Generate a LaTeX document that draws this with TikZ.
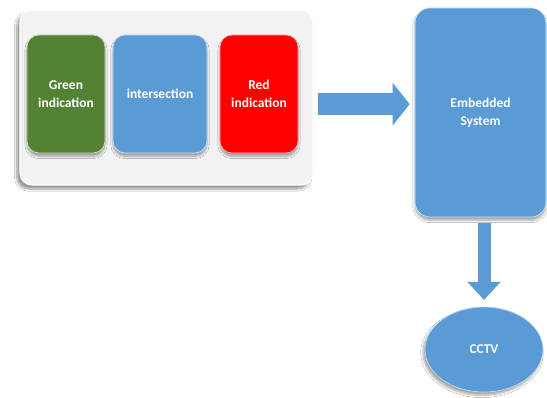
\documentclass[tikz,border=0pt]{standalone}
\usepackage{fontspec}
\setmainfont{Carlito}
\usetikzlibrary{arrows.meta,shapes.geometric,shadows.blur}

\begin{document}
\begin{tikzpicture}
		[x=0.03cm,y=-0.03cm,line cap=round,
		%Styles
		label text/.style={text=white,font=\bfseries\fontsize{11.5}{15.5}\selectfont},
		block/.style={rounded corners=0.36cm,draw=white!70!#1,line width=0.6pt,fill=#1,
			minimum height=3.54cm,align=center,inner sep=2pt,label text,
			blur shadow={shadow xshift=0pt,shadow yshift=-0.1cm,shadow blur steps=6,shadow opacity=35}},
		panel/.style={rounded corners=0.36cm,draw=white,line width=1pt,fill=black!5,
			blur shadow={shadow xshift=-0.1cm,shadow yshift=-0.12cm,shadow blur steps=8,shadow opacity=40}},
		fat arrow/.style={line cap=butt,draw=sysblue,line width=#1}
		]
		
		%Colors
		\definecolor{sysblue}{RGB}{91,155,213}
		\definecolor{lampgreen}{RGB}{84,130,53}
		\definecolor{lampred}{RGB}{255,0,0}
		
		\useasboundingbox[fill=white] (0,0) rectangle (547,398);
		
		%The graphic
		\node[panel,minimum width=8.79cm,minimum height=5.25cm] (panel) at (166.5,97.5) {};
		\node[block=lampgreen,minimum width=2.34cm] (green) at (66,94) {Green\\indication};
		\node[block=sysblue,minimum width=2.82cm] (inter) at (160,94) {intersection};
		\node[block=lampred,minimum width=2.34cm] (red) at (259,94) {Red\\indication};
		
		\node[block=sysblue,minimum width=3.93cm,minimum height=6.27cm,rounded corners=0.45cm] (emb) at (480.5,112.5) {Embedded\\System};
		\node[ellipse,draw=white!60!sysblue,line width=0.6pt,fill=sysblue,minimum width=3.54cm,minimum height=2.55cm,
			label text,
			blur shadow={shadow xshift=-0.06cm,shadow yshift=-0.1cm,shadow blur steps=6,shadow opacity=35}] (cctv) at (484,349.5) {CCTV};
		
		\draw[fat arrow=0.66cm,-{Triangle[length=0.51cm,width=1.26cm]},shorten <=0.12cm,shorten >=0.15cm]
			([yshift=-0.2cm]panel.east) -- ([yshift=-0.2cm]panel.east -| emb.west);
		\draw[fat arrow=0.39cm,-{Triangle[length=0.54cm,width=0.96cm]},shorten <=0.18cm,shorten >=0.2cm]
			(cctv.north |- emb.south) -- (cctv.north);
	\end{tikzpicture}
\end{document}
